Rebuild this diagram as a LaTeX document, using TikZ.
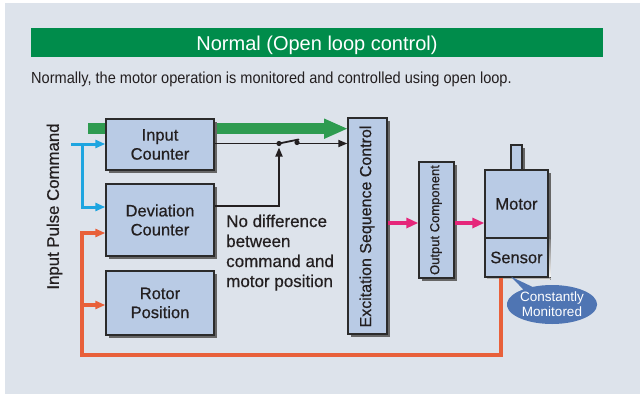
\documentclass[tikz,border=0pt]{standalone}
\usepackage{fontspec}
\setmainfont{Liberation Sans}
\newfontfamily\condfont[FakeStretch=0.91]{Liberation Sans}
\newfontfamily\medfont[FakeBold=0.6]{Liberation Sans}
\usetikzlibrary{arrows.meta,shadows,shapes.callouts,calc}
\definecolor{bg}{HTML}{DDE3EB}
\definecolor{titlegreen}{HTML}{008C4B}
\definecolor{arrowgreen}{HTML}{2E9B50}
\definecolor{boxfill}{HTML}{B9CBE5}
\definecolor{boxline}{HTML}{2B2B2B}
\definecolor{shade}{HTML}{666666}
\definecolor{ink}{HTML}{231F20}
\definecolor{pblue}{HTML}{1EA5E0}
\definecolor{porange}{HTML}{E8603A}
\definecolor{pmag}{HTML}{E5267A}
\definecolor{calloutblue}{HTML}{4F75B3}
\tikzset{
  blk/.style={draw=boxline, fill=boxfill, line width=1.4pt, inner sep=0pt,
    align=center, text=ink, font=\medfont\fontsize{16.5}{19}\selectfont,
    drop shadow={shadow xshift=2.5pt, shadow yshift=-2.5pt, fill=shade, opacity=1}},
  plainbox/.style={draw=boxline, fill=boxfill, line width=1.4pt, inner sep=0pt,
    align=center, text=ink, font=\medfont\fontsize{16.5}{19}\selectfont},
  bluearr/.style={draw=pblue, line width=3pt, -{Triangle[length=10pt,width=8pt]}},
  orangearr/.style={draw=porange, line width=3.6pt, line join=miter, -{Triangle[length=10pt,width=8pt]}},
  magarr/.style={draw=pmag, line width=4pt, -{Triangle[length=12pt,width=10pt]}},
  blackline/.style={draw=ink, line width=1.8pt},
  blackarr/.style={draw=ink, line width=1.8pt, -{Triangle[length=9pt,width=7pt]}},
  greenarr/.style={draw=arrowgreen, line width=10.7pt, -{Triangle[length=24pt,width=18.5pt]}},
  rottext/.style={rotate=90, inner sep=0pt, text=ink},
}
\begin{document}
\begin{tikzpicture}[x=1pt,y=-1pt]
\useasboundingbox (0,0) rectangle (640,394);
\fill[white] (0,0) rectangle (640,394);
\fill[bg] (5,3) rectangle (640,394);

% title bar and subtitle
\node[fill=titlegreen, minimum width=572pt, minimum height=29pt, inner sep=0pt] (bar) at (317,42.5) {};
\node[anchor=base, inner sep=0pt, text=white, font=\fontsize{20}{24}\selectfont] (ttl) at (317,50) {Normal (Open loop control)};
\node[anchor=base west, inner sep=0pt, text=ink, font=\condfont\fontsize{16}{19}\selectfont] (sub) at (31,83)
  {Normally, the motor operation is monitored and controlled using open loop.};

% side label
\node[rottext, font=\medfont\fontsize{16.8}{19}\selectfont] (ipc) at (54.5,206.5) {Input Pulse Command};

% green command arrow (behind input counter)
\coordinate (gs) at (88,128.7);
\coordinate (gx) at (348,128.7);
\draw[greenarr] (gs) -- (gx);

% blocks
\node[blk, minimum width=108pt, minimum height=51pt] (inc) at (160,144.5) {Input\\Counter};
\node[blk, minimum width=108pt, minimum height=72pt] (dev) at (160,220) {Deviation\\Counter};
\node[blk, minimum width=108pt, minimum height=64pt] (rot) at (160,303) {Rotor\\Position};
\node[blk, minimum width=39pt, minimum height=216pt] (exc) at (367.5,226) {};
\node[rottext, font=\medfont\fontsize{16}{19}\selectfont] (exct) at (367,226.5) {Excitation Sequence Control};
\node[blk, minimum width=35pt, minimum height=116pt] (out) at (436.5,220) {};
\node[rottext, font=\medfont\fontsize{13}{15}\selectfont] (outt) at (436,220) {Output Component};
\node[blk, minimum width=11pt, minimum height=25pt] (shaft) at (516.5,157.5) {};
\node[blk, minimum width=63pt, minimum height=68pt] (motor) at (516.5,204) {Motor};
\fill[shade] (548,239.5) rectangle (550.5,279.5);
\fill[shade] (487.5,277) rectangle (550.5,279.5);
\node[plainbox, minimum width=63pt, minimum height=39pt] (sensor) at (516.5,257.5) {Sensor};

% switch
\coordinate (sw1) at (279,143.5);
\coordinate (sw2) at (297,142.5);
\coordinate (lv) at (298.5,139.5);
\draw[blackline] (inc.east |- sw1) -- (sw1);
\draw[blackline, line cap=round] (sw1) -- (lv);
\draw[blackarr] (sw2 |- sw1) -- (sw1 -| exc.west);
\fill[ink] (sw1) circle[radius=2.6pt];
\fill[ink] (sw2) circle[radius=2.6pt];
\draw[blackarr] ([yshift=14pt]dev.east) -| ([yshift=-4pt]sw1);

% blue input pulse lines
\coordinate (bs) at (71,144);
\coordinate (bv) at (82,144);
\draw[bluearr] (bs) -- (bs -| inc.west);
\draw[bluearr] (bv) |- ([yshift=13pt]dev.west);

% orange feedback loop
\coordinate (ob) at (82,355);
\coordinate (oj) at (82,305);
\draw[orangearr] ([xshift=-15.5pt]sensor.south) |- (ob) |- ([yshift=-13pt]dev.west);
\draw[orangearr] (oj) -- (oj -| rot.west);

% magenta drive arrows
\coordinate (m1) at ([yshift=-3pt]out.west);
\coordinate (m2) at ([yshift=-19pt]motor.west);
\draw[magarr] (m1 -| exc.east) -- (m1);
\draw[magarr] (m2 -| out.east) -- (m2);

% annotation
\node[anchor=north west, inner sep=0pt, align=left, text=ink, font=\medfont\fontsize{17}{20}\selectfont] (note) at (226,214.5)
  {No difference\\between\\command and\\motor position};

% callout
\node[ellipse callout, fill=calloutblue, minimum width=89pt, minimum height=39pt, inner sep=0pt,
  callout absolute pointer={([xshift=-5.5pt,yshift=1pt]sensor.south)}, callout pointer arc=14,
  align=center, text=white, font=\fontsize{13.5}{15}\selectfont] (cm) at (552,304.5) {Constantly\\Monitored};
\end{tikzpicture}
\end{document}
